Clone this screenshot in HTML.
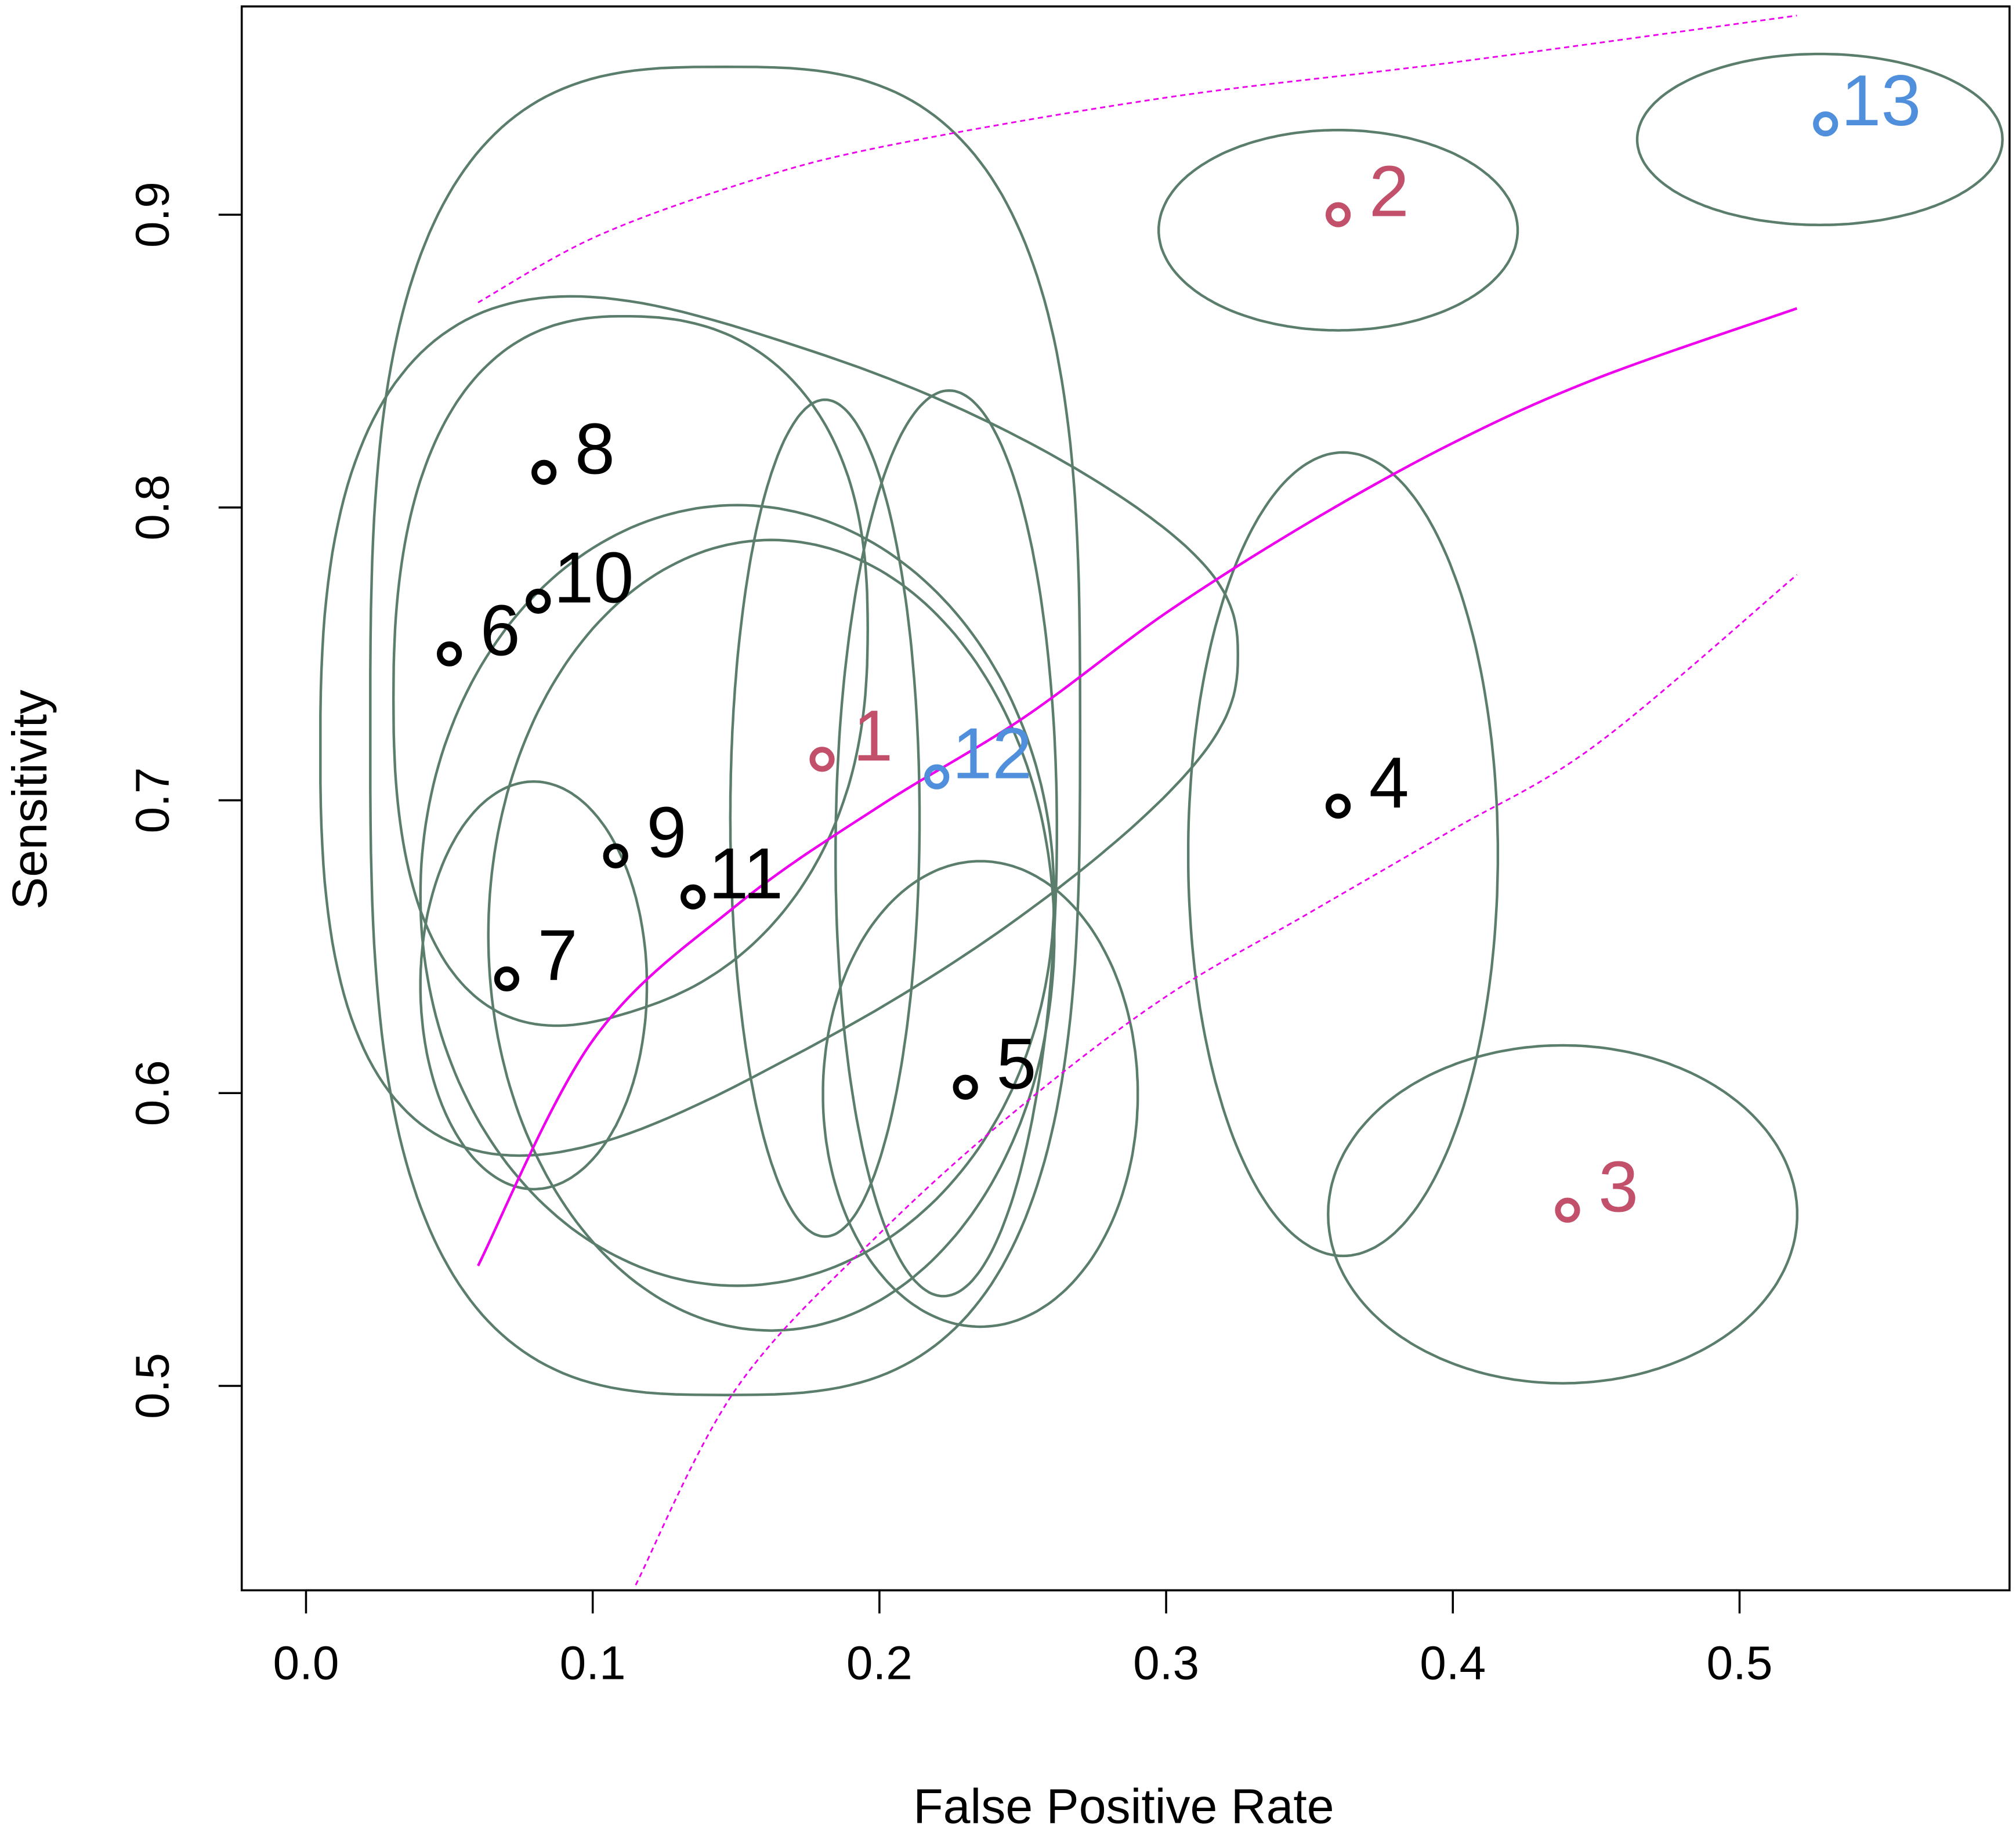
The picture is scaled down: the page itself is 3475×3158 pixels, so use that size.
<!DOCTYPE html>
<html><head><meta charset="utf-8"><style>
html,body{margin:0;padding:0;background:#fff;}
svg{display:block;}
text{font-family:"Liberation Sans",sans-serif;}
</style></head><body>
<svg id="chart" width="3475" height="3158" viewBox="0 0 1568 1425" xmlns="http://www.w3.org/2000/svg">
<rect x="0" y="0" width="1568" height="1425" fill="#fff"/>
<g id="regions"></g>
<g id="curves"></g>
<g id="points"></g>
<g id="axes"></g>
<rect x="188" y="5" width="1375" height="1232" fill="none" stroke="#000" stroke-width="1.6"/>
<text x="874" y="1418" font-size="38" text-anchor="middle">False Positive Rate</text>
<text transform="translate(36,622) rotate(-90)" font-size="38" text-anchor="middle">Sensitivity</text>
</svg>
<script>
const studyLabels = ["1","2","3","4","5","6","7","8","9","10","11","12","13"];
const studyFpr = [0.18,0.36,0.44,0.36,0.23,0.05,0.07,0.083,0.108,0.081,0.135,0.22,0.53];
const studySens = [0.714,0.900,0.560,0.698,0.602,0.750,0.639,0.812,0.681,0.768,0.667,0.708,0.931];
const studyGroup = ["red","red","red","black","black","black","black","black","black","black","black","blue","blue"];
// regions: center x, center y, radius x, radius y, shear, exponent, taper
const regCx = [0.181,0.36,0.4383,0.3617,0.2352,0.165,0.0794,0.1462,0.1504,0.1132,0.1623,0.2233,0.528];
const regCy = [0.6939,0.8947,0.5586,0.6816,0.5997,0.7336,0.6368,0.7237,0.6675,0.7465,0.6539,0.6853,0.9257];
const regRx = [0.033,0.0626,0.0818,0.054,0.0549,0.160,0.0395,0.1238,0.1105,0.0827,0.0987,0.0386,0.0637];
const regRy = [0.1429,0.0342,0.0577,0.1372,0.0795,0.19,0.0696,0.2268,0.1333,0.132,0.135,0.1546,0.0292];
const regShear = [0,0,0,0,0,0.016,0,0,0,0.012,0,0.004,0];
const regPow = [2,2,2,2,2,2.6,2,3.0,2,2.4,2,2,2];
const regTaper = [0,0,0,0,0,0.7,0,0,0,0.2,0,0,0];
const xTicks = [0.0,0.1,0.2,0.3,0.4,0.5];
const xTickLabels = ["0.0","0.1","0.2","0.3","0.4","0.5"];
const yTicks = [0.5,0.6,0.7,0.8,0.9];
const yTickLabels = ["0.5","0.6","0.7","0.8","0.9"];
const curveX = [0.06,0.1,0.15,0.2,0.25,0.3,0.35,0.4,0.45,0.52];
const curveY = [0.541,0.618,0.664,0.698,0.728,0.764,0.795,0.822,0.844,0.868];
const upperX = [0.06,0.1,0.15,0.2,0.3,0.4,0.52];
const upperY = [0.87,0.892,0.910,0.923,0.940,0.952,0.968];
const lowerX = [0.115,0.15,0.2,0.25,0.3,0.35,0.4,0.45,0.52];
const lowerY = [0.432,0.499,0.552,0.596,0.633,0.6616,0.690,0.719,0.777];

const NS = "http://www.w3.org/2000/svg";
const sx = v => 238 + v * 2230;
const sy = v => 167 + (0.9 - v) * 2277.5;
const colors = {red:"#c2506a", black:"#000", blue:"#4f8fdb"};
function mk(tag, attrs, parent){const e=document.createElementNS(NS,tag);for(const k in attrs)e.setAttribute(k,attrs[k]);parent.appendChild(e);return e;}
const sp = (v,p) => Math.sign(v)*Math.pow(Math.abs(v),2/p);

const gR = document.getElementById("regions");
for (let i=0;i<regCx.length;i++){
  let d="";
  for (let k=0;k<=240;k++){
    const t = k/240*2*Math.PI;
    const c = sp(Math.cos(t),regPow[i]), s = sp(Math.sin(t),regPow[i]);
    const x = regCx[i] + regRx[i]*c;
    const y = regCy[i] + regRy[i]*s*(1 - regTaper[i]*(c+1)/2) + regShear[i]*c;
    d += (k?"L":"M") + sx(x).toFixed(1) + "," + sy(y).toFixed(1);
  }
  const p = mk("path",{d:d+"Z",fill:"none",stroke:"#5a7d6c","stroke-width":"2"},gR);
  
  
}

const gC = document.getElementById("curves");
function line(xs, ys, dash, name){
  const P = xs.map((x,i)=>[sx(x), sy(ys[i])]);
  let d = "M"+P[0][0].toFixed(1)+","+P[0][1].toFixed(1);
  for (let i=0;i<P.length-1;i++){
    const p0=P[Math.max(0,i-1)], p1=P[i], p2=P[i+1], p3=P[Math.min(P.length-1,i+2)];
    const c1=[p1[0]+(p2[0]-p0[0])/6, p1[1]+(p2[1]-p0[1])/6];
    const c2=[p2[0]-(p3[0]-p1[0])/6, p2[1]-(p3[1]-p1[1])/6];
    d += "C"+c1[0].toFixed(1)+","+c1[1].toFixed(1)+" "+c2[0].toFixed(1)+","+c2[1].toFixed(1)+" "+p2[0].toFixed(1)+","+p2[1].toFixed(1);
  }
  const p = mk("path",{d:d,fill:"none",stroke:"#ee00ee","stroke-width":dash?"1.3":"2"},gC);
  if (dash) p.setAttribute("stroke-dasharray","4,3");
  
  
}
line(curveX, curveY, false, "sroc-curve");
line(upperX, upperY, true, "upper-prediction-bound");
line(lowerX, lowerY, true, "lower-prediction-bound");

const gP = document.getElementById("points");
for (let i=0;i<studyFpr.length;i++){
  const col = colors[studyGroup[i]];
  const c = mk("circle",{cx:sx(studyFpr[i]),cy:sy(studySens[i]),r:7.5,fill:"none",stroke:col,"stroke-width":"4.5"},gP);
  
  
  const t = mk("text",{x:sx(studyFpr[i])+(studyLabels[i].length>1?12:24),y:sy(studySens[i])+1,"font-size":"56",fill:col},gP);
  t.textContent = studyLabels[i];
  
  
}

const gA = document.getElementById("axes");
const xl = mk("line",{x1:sx(xTicks[0]),x2:sx(xTicks[xTicks.length-1]),y1:1237,y2:1237,stroke:"#000","stroke-width":"1.6"},gA);


xTicks.forEach((v,i)=>{
  const l = mk("line",{x1:sx(v),x2:sx(v),y1:1237,y2:1255,stroke:"#000","stroke-width":"1.6"},gA);
  
  
  const t = mk("text",{x:sx(v),y:1306,"font-size":"37","text-anchor":"middle"},gA);
  t.textContent = xTickLabels[i];
  
  
});
yTicks.forEach((v,i)=>{
  const l = mk("line",{x1:170,x2:188,y1:sy(v),y2:sy(v),stroke:"#000","stroke-width":"1.6"},gA);
  
  
  const t = mk("text",{transform:"translate(131,"+sy(v)+") rotate(-90)","font-size":"37","text-anchor":"middle"},gA);
  t.textContent = yTickLabels[i];
  
  
});
</script>
</body></html>
